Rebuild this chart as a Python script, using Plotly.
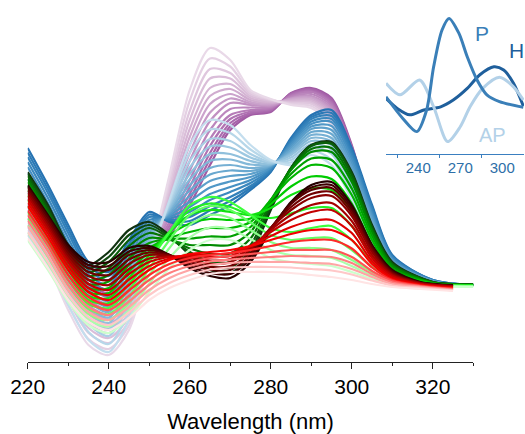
import plotly.graph_objects as go

# Wavelength grids (nm)
wl = [220, 225, 230, 235, 240, 245, 250, 255, 260, 265, 270,
      275, 280, 285, 290, 295, 300, 305, 310, 320, 330]
wl_red = [220, 225, 230, 235, 240, 245, 250, 255, 260, 265, 270,
          275, 280, 285, 290, 295, 300, 305, 310, 317, 325]

# CD spectra (mdeg), each family listed from darkest to lightest trace
purple_spectra = [
    [16, 12, 6, 1, -1, 1, 6, 10, 16, 24, 31, 34, 34.6, 38.4, 39.4, 37.4, 28, 14, 4.6, 0.6, 0],
    [15.7, 11.6, 5.4, 0.3, -1.7, 0.5, 5.9, 10.6, 17.1, 25.2, 31.7, 34.2, 34.8, 38.3, 39.2, 37.1, 27.7, 13.8, 4.5, 0.6, 0],
    [15.4, 11.2, 4.8, -0.4, -2.4, 0, 5.8, 11.2, 18.2, 26.4, 32.4, 34.4, 35, 38.2, 39, 36.8, 27.4, 13.6, 4.4, 0.6, 0],
    [15, 10.7, 4.2, -1.1, -3.1, -0.6, 5.8, 11.9, 19.6, 27.8, 33.2, 34.7, 35.2, 38, 38.8, 36.5, 27, 13.4, 4.4, 0.6, 0],
    [14.6, 10.2, 3.6, -1.8, -3.8, -1.2, 5.8, 12.6, 21, 29.2, 34, 35, 35.4, 37.8, 38.6, 36.2, 26.6, 13.2, 4.4, 0.6, 0],
    [14.2, 9.6, 2.7, -2.9, -4.9, -2, 5.7, 13.6, 22.9, 31, 35.2, 35.5, 35.6, 37.6, 38.2, 35.8, 26.2, 12.8, 4.3, 0.6, 0],
    [13.8, 9, 1.8, -4, -6, -2.8, 5.6, 14.6, 24.8, 32.8, 36.4, 36, 35.8, 37.4, 37.8, 35.4, 25.8, 12.4, 4.2, 0.6, 0],
    [13.3, 8.4, 1, -4.9, -6.9, -3.5, 5.5, 15.4, 26.4, 34.5, 37.3, 36.3, 36, 37.3, 37.6, 35, 25.3, 12.2, 4.1, 0.5, 0],
    [12.8, 7.8, 0.2, -5.8, -7.8, -4.2, 5.4, 16.2, 28, 36.2, 38.2, 36.6, 36.2, 37.2, 37.4, 34.6, 24.8, 12, 4, 0.4, 0],
    [12.4, 7.3, -0.5, -6.7, -8.7, -4.9, 5.4, 17.1, 29.6, 37.8, 39.2, 37, 36.4, 37, 37.1, 34.2, 24.4, 11.7, 3.9, 0.4, 0],
    [12, 6.8, -1.2, -7.6, -9.6, -5.6, 5.4, 18, 31.2, 39.4, 40.2, 37.4, 36.6, 36.8, 36.8, 33.8, 24, 11.4, 3.8, 0.4, 0],
    [11.5, 6.1, -2.1, -8.6, -10.6, -6.4, 5.3, 18.9, 33, 41.3, 41.3, 37.8, 36.8, 36.6, 36.5, 33.4, 23.5, 11.1, 3.7, 0.4, 0],
    [11, 5.4, -3, -9.6, -11.6, -7.2, 5.2, 19.8, 34.8, 43.2, 42.4, 38.2, 37, 36.4, 36.2, 33, 23, 10.8, 3.6, 0.4, 0],
    [10.5, 4.7, -4, -10.8, -12.8, -8.1, 5.1, 20.9, 36.9, 45.3, 43.7, 38.6, 37.1, 36.2, 35.8, 32.5, 22.5, 10.4, 3.5, 0.4, 0],
    [10, 4, -5, -12, -14, -9, 5, 22, 39, 47.4, 45, 39, 37.2, 36, 35.4, 32, 22, 10, 3.4, 0.4, 0],
]
blue_spectra = [
    [27.4, 20, 12, 4.6, 2.6, 9, 14.6, 12.6, 12, 14, 16, 19, 22.6, 29.4, 34, 35, 27.4, 16, 6, 1, 0],
    [26.5, 19.2, 11.2, 3.8, 1.8, 8.2, 14.1, 12.8, 12.8, 14.9, 16.8, 19.4, 22.8, 29.1, 33.6, 34.4, 26.9, 15.6, 5.8, 1, 0],
    [25.6, 18.4, 10.4, 3, 1, 7.4, 13.6, 13, 13.6, 15.8, 17.6, 19.8, 23, 28.8, 33.2, 33.8, 26.4, 15.2, 5.6, 1, 0],
    [24.6, 17.4, 9.4, 2.1, 0, 6.4, 13, 13.3, 14.6, 17, 18.6, 20.4, 23.2, 28.5, 32.7, 33.2, 25.8, 14.7, 5.4, 0.9, 0],
    [23.6, 16.4, 8.4, 1.2, -1, 5.4, 12.4, 13.6, 15.6, 18.2, 19.6, 21, 23.4, 28.2, 32.2, 32.6, 25.2, 14.2, 5.2, 0.8, 0],
    [22.4, 15.3, 7.3, 0.1, -2.1, 4.3, 11.8, 13.9, 16.7, 19.5, 20.7, 21.6, 23.6, 27.8, 31.7, 31.8, 24.4, 13.7, 5, 0.8, 0],
    [21.2, 14.2, 6.2, -1, -3.2, 3.2, 11.2, 14.2, 17.8, 20.8, 21.8, 22.2, 23.8, 27.4, 31.2, 31, 23.6, 13.2, 4.8, 0.8, 0],
    [19.9, 13.1, 5.1, -2.1, -4.3, 2.1, 10.5, 14.5, 18.9, 22.1, 22.9, 22.8, 23.9, 27, 30.6, 30.2, 22.9, 12.6, 4.5, 0.7, 0],
    [18.6, 12, 4, -3.2, -5.4, 1, 9.8, 14.8, 20, 23.4, 24, 23.4, 24, 26.6, 30, 29.4, 22.2, 12, 4.2, 0.6, 0],
    [17.4, 10.9, 2.9, -4.3, -6.5, -0.1, 9.1, 15.1, 21.1, 24.8, 25.1, 24.1, 24.1, 26.3, 29.4, 28.7, 21.5, 11.4, 4, 0.5, 0],
    [16.2, 9.8, 1.8, -5.4, -7.6, -1.2, 8.4, 15.4, 22.2, 26.2, 26.2, 24.8, 24.2, 26, 28.8, 28, 20.8, 10.8, 3.8, 0.4, 0],
    [14.8, 8.5, 0.5, -6.6, -8.9, -2.5, 7.7, 15.8, 23.5, 27.7, 27.5, 25.5, 24.4, 25.5, 28.2, 27.1, 19.9, 10.2, 3.5, 0.4, 0],
    [13.4, 7.2, -0.8, -7.8, -10.2, -3.8, 7, 16.2, 24.8, 29.2, 28.8, 26.2, 24.6, 25, 27.6, 26.2, 19, 9.6, 3.2, 0.4, 0],
    [11.7, 5.6, -2.4, -9.4, -11.8, -5.4, 6, 16.6, 26.4, 31.1, 30.4, 27.1, 24.8, 24.5, 26.8, 25.1, 18, 8.8, 2.9, 0.3, 0],
    [10, 4, -4, -11, -13.4, -7, 5, 17, 28, 33, 32, 28, 25, 24, 26, 24, 17, 8, 2.6, 0.2, 0],
]
green_spectra = [
    [22.6, 16, 8, 4, 6.6, 11, 12.6, 10, 6, 3, 2.4, 6, 15, 23.4, 28, 28.6, 22.6, 12, 4.6, 0.6, 0.2],
    [22.2, 15.5, 7.5, 3.3, 5.6, 10, 12, 9.7, 6.3, 3.8, 3.5, 7, 15.5, 23.4, 27.9, 28.4, 22.3, 11.7, 4.4, 0.6, 0.2],
    [21.8, 15, 7, 2.6, 4.6, 9, 11.4, 9.4, 6.6, 4.6, 4.6, 8, 16, 23.4, 27.8, 28.2, 22, 11.4, 4.2, 0.6, 0.2],
    [21.2, 14.4, 6.4, 1.8, 3.3, 7.8, 10.4, 9.2, 7.3, 6.3, 6.3, 9.3, 16.5, 23.2, 27.2, 27.4, 21.3, 11, 4, 0.5, 0.1],
    [20.6, 13.8, 5.8, 1, 2, 6.6, 9.4, 9, 8, 8, 8, 10.6, 17, 23, 26.6, 26.6, 20.6, 10.6, 3.8, 0.4, 0],
    [19.8, 13.1, 5.2, 0.2, 0.7, 5.3, 8.4, 9.2, 9.3, 9.7, 9.7, 11.6, 17, 22.2, 25.3, 25, 19.3, 9.8, 3.4, 0.4, 0],
    [19, 12.4, 4.6, -0.6, -0.6, 4, 7.4, 9.4, 10.6, 11.4, 11.4, 12.6, 17, 21.4, 24, 23.4, 18, 9, 3, 0.4, 0],
    [18, 11.5, 3.8, -1.4, -1.6, 2.7, 6.7, 10, 12.3, 13.2, 13, 13.3, 16.2, 19.7, 21.7, 21.2, 16.3, 8, 2.6, 0.3, 0],
    [17, 10.6, 3, -2.2, -2.6, 1.4, 6, 10.6, 14, 15, 14.6, 14, 15.4, 18, 19.4, 19, 14.6, 7, 2.2, 0.2, 0],
    [15.8, 9.4, 2, -3, -3.6, 0.2, 5.3, 10.6, 15, 16.3, 15.6, 14, 13.4, 14.3, 15.4, 15.4, 11.8, 5.8, 1.8, 0.1, -0.1],
    [14.6, 8.2, 1, -3.8, -4.6, -1, 4.6, 10.6, 16, 17.6, 16.6, 14, 11.4, 10.6, 11.4, 11.8, 9, 4.6, 1.4, 0, -0.2],
    [13.3, 6.9, 0, -4.8, -5.8, -2.3, 3.3, 9, 14, 15.8, 15, 12.5, 10, 9, 9.4, 9.4, 7, 3.6, 1.1, 0, -0.2],
    [12, 5.6, -1, -5.8, -7, -3.6, 2, 7.4, 12, 14, 13.4, 11, 8.6, 7.4, 7.4, 7, 5, 2.6, 0.8, 0, -0.2],
    [10.5, 4.3, -2.2, -6.9, -8.3, -5.1, 0.3, 5.4, 9.5, 11.5, 11.2, 9.2, 7, 6, 5.8, 5.4, 3.8, 1.9, 0.6, -0.1, -0.3],
    [9, 3, -3.4, -8, -9.6, -6.6, -1.4, 3.4, 7, 9, 9, 7.4, 5.4, 4.6, 4.2, 3.8, 2.6, 1.2, 0.4, -0.2, -0.4],
]
red_spectra = [
    [20, 14, 8, 4.6, 4.6, 7.4, 7.8, 6, 3.4, 1.8, 1.4, 4.6, 11, 16.6, 20, 20.6, 16, 8, 3, 0.6, 0],
    [19.7, 13.7, 7.5, 4, 3.8, 6.7, 7.4, 6, 3.8, 2.4, 2.2, 5.2, 11.2, 16.4, 19.5, 20, 15.5, 7.7, 2.8, 0.5, -0.1],
    [19.4, 13.4, 7, 3.4, 3, 6, 7, 6, 4.2, 3, 3, 5.8, 11.4, 16.2, 19, 19.4, 15, 7.4, 2.6, 0.4, -0.2],
    [18.9, 12.8, 6.4, 2.6, 2, 5.1, 6.5, 5.9, 4.6, 3.6, 3.8, 6.4, 11.4, 15.6, 18.2, 18.6, 14.4, 7, 2.4, 0.4, -0.2],
    [18.4, 12.2, 5.8, 1.8, 1, 4.2, 6, 5.8, 5, 4.2, 4.6, 7, 11.4, 15, 17.4, 17.8, 13.8, 6.6, 2.2, 0.4, -0.2],
    [17.8, 11.6, 5.2, 1, 0, 3.2, 5.3, 5.7, 5.4, 4.9, 5.2, 7.4, 11, 14, 16, 16.4, 12.8, 6, 2, 0.3, -0.3],
    [17.2, 11, 4.6, 0.2, -1, 2.2, 4.6, 5.6, 5.8, 5.6, 5.8, 7.8, 10.6, 13, 14.6, 15, 11.8, 5.4, 1.8, 0.2, -0.4],
    [16.5, 10.3, 3.8, -0.6, -2, 1.1, 3.8, 5.3, 6, 6.1, 6.4, 7.8, 9.8, 11.6, 12.8, 13, 10.4, 4.8, 1.5, 0.1, -0.5],
    [15.8, 9.6, 3, -1.4, -3, 0, 3, 5, 6.2, 6.6, 7, 7.8, 9, 10.2, 11, 11, 9, 4.2, 1.2, 0, -0.6],
    [14.9, 8.7, 2, -2.4, -4, -1.1, 2, 4.2, 5.4, 6, 6.4, 7, 7.8, 8.6, 9, 9, 7.3, 3.5, 1, -0.1, -0.7],
    [14, 7.8, 1, -3.4, -5, -2.2, 1, 3.4, 4.6, 5.4, 5.8, 6.2, 6.6, 7, 7, 7, 5.6, 2.8, 0.8, -0.2, -0.8],
    [12.9, 6.8, 0, -4.4, -6, -3.3, 0, 2.4, 3.8, 4.7, 5.1, 5.4, 5.6, 5.8, 5.7, 5.6, 4.4, 2.2, 0.5, -0.3, -0.9],
    [11.8, 5.8, -1, -5.4, -7, -4.4, -1, 1.4, 3, 4, 4.4, 4.6, 4.6, 4.6, 4.4, 4.2, 3.2, 1.6, 0.2, -0.4, -1],
    [10.6, 4.6, -2, -6.4, -8, -5.5, -2, 0.4, 2, 3.1, 3.5, 3.6, 3.6, 3.5, 3.2, 2.9, 2.1, 0.9, -0.1, -0.6, -1.1],
    [9.4, 3.4, -3, -7.4, -9, -6.6, -3, -0.6, 1, 2.2, 2.6, 2.6, 2.6, 2.4, 2, 1.6, 1, 0.2, -0.4, -0.8, -1.2],
]

purple_colors = ['#a05aa3', '#a662a9', '#ab6aae', '#b073b3', '#b67cb8', '#bb86bd', '#c190c2', '#c69ac7',
                 '#cba3cc', '#d0accf', '#d5b5d4', '#dabed9', '#dfc7de', '#e4d0e3', '#e9d9e8']
blue_colors = ['#2673b2', '#2c7ab6', '#3381ba', '#3b88be', '#4690c3', '#5198c7', '#5da0cb', '#69a8cf',
               '#76b0d4', '#83b8d8', '#90c0dc', '#9dc8e1', '#aacfe5', '#b7d7e9', '#c4deee']
green_colors = ['#113311', '#0f4a0f', '#0a600a', '#057505', '#008a00', '#00a000', '#00b600', '#00cc00',
                '#10e010', '#22f022', '#3dff3d', '#62ff62', '#88ff88', '#aaffaa', '#ccffcc']
red_colors = ['#260000', '#3e0000', '#560000', '#700000', '#8a0000', '#a60000', '#c20000', '#de0000',
              '#f50000', '#ff2a2a', '#ff5555', '#ff7f7f', '#ffa5a5', '#ffc8c8', '#ffe4e4']

# Inset: reference topologies (parallel, hybrid, antiparallel)
ref_p_wl = [217, 229, 239, 246, 251, 257, 262, 269, 275, 282, 289, 298, 315]
ref_p_cd = [5.8, 0.4, -2.9, 2.5, 13.3, 22.5, 25.4, 21.7, 15.8, 10, 6.3, 4.6, 3.2]
ref_h_wl = [217, 225, 234, 244, 256, 265, 275, 284, 294, 301, 308, 315]
ref_h_cd = [5.4, 2.9, 1.3, 2.5, 3.3, 5, 7.9, 11.3, 13.3, 12.5, 9.2, 3.5]
ref_ap_wl = [217, 227, 241, 251, 261, 270, 277, 286, 298, 308, 315]
ref_ap_cd = [9.2, 6.3, 10, 3.3, -5.4, -1.7, 3.3, 7.9, 10.7, 8.3, 5]

main_ticks = [220, 240, 260, 280, 300, 320]
inset_ticks = [240, 270, 300]

fig = go.Figure()

families = [
    (wl, purple_spectra, purple_colors),
    (wl, blue_spectra, blue_colors),
    (wl, green_spectra, green_colors),
    (wl_red, red_spectra, red_colors),
]
for x, spectra, colors in families:
    for cd, c in zip(spectra, colors):
        fig.add_trace(go.Scatter(
            x=x, y=cd, mode='lines', showlegend=False, hoverinfo='skip',
            line=dict(color=c, width=2.2, shape='spline', smoothing=0.8),
            xaxis='x', yaxis='y'))

inset_traces = [
    (ref_h_wl, ref_h_cd, '#1f5f9c'),
    (ref_ap_wl, ref_ap_cd, '#b3d1e8'),
    (ref_p_wl, ref_p_cd, '#3a7fb8'),
]
for x, cd, c in inset_traces:
    fig.add_trace(go.Scatter(
        x=x, y=cd, mode='lines', showlegend=False, hoverinfo='skip',
        line=dict(color=c, width=3, shape='spline', smoothing=0.8),
        xaxis='x2', yaxis='y2'))

font_family = 'Arial, Liberation Sans, sans-serif'

fig.update_layout(
    width=525, height=434,
    margin=dict(l=0, r=0, t=0, b=72, autoexpand=False),
    paper_bgcolor='white', plot_bgcolor='rgba(0,0,0,0)',
    font=dict(family=font_family, color='black'),
    xaxis=dict(
        domain=[27.7 / 525, 473.3 / 525], range=[220, 330], automargin=False,
        tickvals=main_ticks, ticks='outside', ticklen=6, tickwidth=1.2,
        tickcolor='#222', showline=True, linecolor='#222', linewidth=1.3,
        showgrid=False, zeroline=False,
        tickfont=dict(size=21, family=font_family, color='black'),
        minor=dict(dtick=10, tick0=220, ticks='outside', ticklen=3,
                   tickwidth=1.2, tickcolor='#222', showgrid=False),
        title=dict(text='Wavelength (nm)', standoff=18,
                   font=dict(size=22, family=font_family, color='black')),
    ),
    yaxis=dict(domain=[0, 1], range=[-15.4, 57], visible=False, automargin=False),
    xaxis2=dict(
        domain=[386 / 525, 524 / 525], range=[217, 315.5], anchor='y2',
        automargin=False,
        tickvals=inset_ticks, ticks='', showline=True, linecolor='#3a7fc0',
        linewidth=1.3, showgrid=False, zeroline=False,
        tickfont=dict(size=15, family=font_family, color='#2e6fa8'),
        minor=dict(tickvals=[225, 255, 285], ticks='outside', ticklen=3,
                   tickwidth=1, tickcolor='#3a7fc0', showgrid=False),
    ),
    xaxis3=dict(
        overlaying='x2', side='top', anchor='y2', range=[217, 315.5],
        automargin=False,
        showline=False, showgrid=False, zeroline=False, showticklabels=False,
        tickvals=[225, 285], ticks='outside', ticklen=3, tickwidth=1,
        tickcolor='#3a7fc0',
    ),
    yaxis2=dict(domain=[(362 - 154) / 362, (362 - 12) / 362],
                range=[-8.5, 27], anchor='x2', visible=False, automargin=False),
    annotations=[
        dict(x=285.3, y=21.75, xref='x2', yref='y2', text='P', showarrow=False,
             font=dict(size=21, color='#3a7fb8', family=font_family)),
        dict(x=310.3, y=17.5, xref='x2', yref='y2', text='H', showarrow=False,
             font=dict(size=21, color='#1f5f9c', family=font_family)),
        dict(x=293, y=-3.75, xref='x2', yref='y2', text='AP', showarrow=False,
             font=dict(size=20, color='#b3d1e8', family=font_family)),
    ],
)

fig.write_html('out.html')
